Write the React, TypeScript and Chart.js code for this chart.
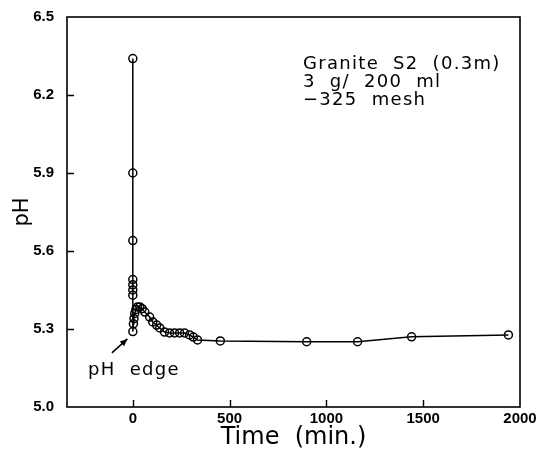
import React, { useEffect, useRef } from "react";
import { Chart, registerables } from "chart.js";

Chart.register(...registerables);

// Data (time in minutes, pH)
const timeMin = [
  0, 0, 0, 0, 0, 0, 0, 0,
  3, 6, 10, 16, 24, 36, 48,
  62, 87, 103, 123, 139, 164, 190, 216, 242, 267, 293, 313, 334,
  452, 898, 1161, 1440, 1940,
];
const phValues = [
  6.34, 5.9, 5.64, 5.49, 5.47, 5.45, 5.43, 5.29,
  5.32, 5.34, 5.36, 5.375, 5.385, 5.385, 5.378,
  5.365, 5.346, 5.327, 5.315, 5.304, 5.288, 5.285, 5.285, 5.285, 5.285, 5.277, 5.269, 5.258,
  5.254, 5.251, 5.251, 5.27, 5.277,
];

const xTicks = [0, 500, 1000, 1500, 2000];
const yTicks = [5.0, 5.3, 5.6, 5.9, 6.2, 6.5];

const annotationLines = ["Granite  S2  (0.3m)", "3  g/  200  ml", "\u2212325  mesh"];
const annotationX = 879;
const annotationY = [6.319, 6.25, 6.181];

const edgeLabel = "pH  edge";
const edgeLabelX = -231;
const edgeLabelY = 5.142;
const arrowFrom = [-108, 5.208];
const arrowTo = [-28, 5.262];

const decoPlugin = {
  id: "deco",
  afterDraw(chart: any) {
    const { ctx, chartArea: a } = chart;
    const x = chart.scales.x;
    const y = chart.scales.y;
    ctx.save();
    ctx.strokeStyle = "#000";
    ctx.lineWidth = 1.6;
    ctx.strokeRect(a.left, a.top, a.right - a.left, a.bottom - a.top);
    ctx.lineWidth = 1.4;
    ctx.beginPath();
    xTicks.forEach((v) => {
      const px = Math.round(x.getPixelForValue(v)) + 0.5;
      if (px > a.left + 2 && px < a.right - 2) {
        ctx.moveTo(px, a.bottom);
        ctx.lineTo(px, a.bottom - 7);
      }
    });
    yTicks.forEach((v) => {
      const py = Math.round(y.getPixelForValue(v)) + 0.5;
      if (py > a.top + 2 && py < a.bottom - 2) {
        ctx.moveTo(a.left, py);
        ctx.lineTo(a.left + 7, py);
      }
    });
    ctx.stroke();

    ctx.fillStyle = "#000";
    ctx.textBaseline = "middle";
    ctx.textAlign = "left";
    ctx.font = "18px 'DejaVu Sans'";
    (ctx as any).letterSpacing = "1.3px";
    annotationLines.forEach((s, i) => {
      ctx.fillText(s, x.getPixelForValue(annotationX), y.getPixelForValue(annotationY[i]));
    });
    ctx.fillText(edgeLabel, x.getPixelForValue(edgeLabelX), y.getPixelForValue(edgeLabelY));
    (ctx as any).letterSpacing = "0px";

    // arrow
    const x0 = x.getPixelForValue(arrowFrom[0]);
    const y0 = y.getPixelForValue(arrowFrom[1]);
    const x1 = x.getPixelForValue(arrowTo[0]);
    const y1 = y.getPixelForValue(arrowTo[1]);
    ctx.lineWidth = 1.5;
    ctx.beginPath();
    ctx.moveTo(x0, y0);
    ctx.lineTo(x1, y1);
    ctx.stroke();
    const ang = Math.atan2(y1 - y0, x1 - x0);
    const hl = 8;
    ctx.beginPath();
    ctx.moveTo(x1, y1);
    ctx.lineTo(x1 - hl * Math.cos(ang - 0.4), y1 - hl * Math.sin(ang - 0.4));
    ctx.lineTo(x1 - hl * Math.cos(ang + 0.4), y1 - hl * Math.sin(ang + 0.4));
    ctx.closePath();
    ctx.fill();
    ctx.restore();
  },
};

export default function App() {
  const ref = useRef<HTMLCanvasElement | null>(null);

  useEffect(() => {
    document.body.style.margin = "0";
    const canvas = ref.current;
    if (!canvas) return;
    const chart = new Chart(canvas, {
      type: "line",
      data: {
        datasets: [
          {
            data: timeMin.map((t, i) => ({ x: t, y: phValues[i] })),
            borderColor: "#000",
            borderWidth: 1.5,
            pointRadius: 4,
            pointBorderWidth: 1.5,
            pointBorderColor: "#000",
            pointBackgroundColor: "rgba(255,255,255,0)",
            tension: 0,
            fill: false,
          },
        ],
      },
      options: {
        animation: false,
        responsive: false,
        devicePixelRatio: 1,
        layout: { padding: { left: 0, right: 20, top: 17, bottom: 0 } },
        plugins: { legend: { display: false }, tooltip: { enabled: false } },
        scales: {
          x: {
            type: "linear",
            min: -340,
            max: 2000,
            grid: { display: false, drawTicks: false },
            border: { display: false },
            afterBuildTicks: (s: any) => {
              s.ticks = xTicks.map((v) => ({ value: v }));
            },
            afterFit: (s: any) => {
              s.height = 45;
              s.paddingLeft = 0;
              s.paddingRight = 0;
            },
            ticks: {
              color: "#000",
              padding: 3,
              maxRotation: 0,
              font: { family: "'Liberation Sans'", size: 15, weight: "bold" },
              callback: (v: any) => String(v),
            },
            title: {
              display: true,
              text: "Time  (min.)",
              color: "#000",
              font: { family: "'DejaVu Sans'", size: 24, lineHeight: 1 },
              padding: { top: 0, bottom: 2 },
            },
          },
          y: {
            type: "linear",
            min: 5.0,
            max: 6.5,
            grid: { display: false, drawTicks: false },
            border: { display: false },
            afterBuildTicks: (s: any) => {
              s.ticks = yTicks.map((v) => ({ value: v }));
            },
            afterFit: (s: any) => {
              s.width = 67;
              s.paddingTop = 0;
              s.paddingBottom = 0;
            },
            ticks: {
              color: "#000",
              padding: 13,
              font: { family: "'Liberation Sans'", size: 15, weight: "bold" },
              callback: (v: any) => Number(v).toFixed(1),
            },
            title: {
              display: true,
              text: "pH",
              color: "#000",
              font: { family: "'DejaVu Sans'", size: 21, lineHeight: 1 },
              padding: { top: 12, bottom: 0 },
            },
          },
        },
      },
      plugins: [decoPlugin],
    } as any);
    return () => chart.destroy();
  }, []);

  return (
    <div style={{ position: "relative", width: 540, height: 452, background: "#fff" }}>
      <canvas ref={ref} width={540} height={452} />
    </div>
  );
}
